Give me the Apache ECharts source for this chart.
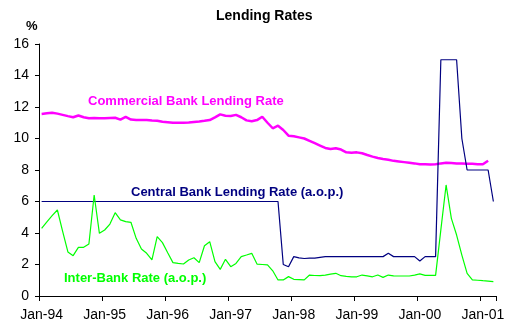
<!DOCTYPE html>
<html><head><meta charset="utf-8">
<script src="https://cdn.jsdelivr.net/npm/echarts@6/dist/echarts.min.js"></script>
<style>html,body{margin:0;padding:0;background:#fff}#c{width:508px;height:329px}</style>
</head><body><div id="c"></div>
<script>
// Monthly categories Jan-94 .. Mar-01
const monthNames = ['Jan','Feb','Mar','Apr','May','Jun','Jul','Aug','Sep','Oct','Nov','Dec'];
const categories = [];
for (let y = 1994; y <= 2001; y++) {
  for (let m = 0; m < 12; m++) {
    if (y === 2001 && m > 2) break;
    categories.push(monthNames[m] + '-' + String(y).slice(2));
  }
}
const yTicks = [0, 2, 4, 6, 8, 10, 12, 14, 16];

const commercialRate = [
  11.56, 11.6, 11.64, 11.58, 11.5, 11.42, 11.35, 11.46, 11.35, 11.28, 11.3, 11.28,
  11.28, 11.3, 11.32, 11.2, 11.37, 11.2, 11.17, 11.17, 11.17, 11.14, 11.13, 11.06,
  11.03, 11.0, 11.0, 11.0, 11.02, 11.05, 11.08, 11.12, 11.17, 11.34, 11.53, 11.45,
  11.43, 11.5, 11.35, 11.15, 11.1, 11.17, 11.38, 11.0, 10.65, 10.81, 10.54, 10.18,
  10.14, 10.07, 10.0, 9.85, 9.7, 9.55, 9.4, 9.33, 9.38, 9.3, 9.12, 9.1,
  9.12, 9.06, 8.95, 8.85, 8.76, 8.7, 8.65, 8.58, 8.54, 8.5, 8.46, 8.42,
  8.36, 8.36, 8.35, 8.36, 8.42, 8.46, 8.44, 8.42, 8.42, 8.4, 8.39, 8.37,
  8.36, 8.59, null
];
const centralRate = [
  6, 6, 6, 6, 6, 6, 6, 6, 6, 6, 6, 6,
  6, 6, 6, 6, 6, 6, 6, 6, 6, 6, 6, 6,
  6, 6, 6, 6, 6, 6, 6, 6, 6, 6, 6, 6,
  6, 6, 6, 6, 6, 6, 6, 6, 6, 6, 2.0, 1.86,
  2.5, 2.42, 2.38, 2.4, 2.4, 2.45, 2.5, 2.5, 2.5, 2.5, 2.5, 2.5,
  2.5, 2.5, 2.5, 2.5, 2.5, 2.5, 2.71, 2.5, 2.5, 2.5, 2.5, 2.5,
  2.22, 2.5, 2.5, 2.5, 15, 15, 15, 15, 10, 8, 8, 8,
  8, 8, 6
];
const interBankRate = [
  4.3, 4.7, 5.1, 5.46, 4.1, 2.8, 2.56, 3.09, 3.09, 3.3, 6.41, 3.98,
  4.19, 4.57, 5.29, 4.83, 4.72, 4.68, 3.66, 2.98, 2.71, 2.29, 3.77, 3.39,
  2.75, 2.12, 2.07, 2.03, 2.29, 2.43, 2.12, 3.19, 3.45, 2.18, 1.69, 2.33,
  1.86, 2.07, 2.5, 2.6, 2.71, 2.03, 2.0, 1.97, 1.6, 1.02, 1.02, 1.23,
  1.06, 1.04, 1.02, 1.33, 1.3, 1.29, 1.33, 1.39, 1.44, 1.29, 1.25, 1.22,
  1.22, 1.33, 1.28, 1.22, 1.33, 1.18, 1.33, 1.28, 1.27, 1.27, 1.27, 1.33,
  1.40, 1.31, 1.31, 1.31, 4.2, 7.05, 4.93, 3.87, 2.6, 1.44, 1.02, 1.0,
  0.97, 0.95, 0.91
];

const FONT = 'Liberation Sans, Arial, sans-serif';
const chart = echarts.init(document.getElementById('c'), null, {renderer: 'canvas'});
chart.setOption({
  animation: false,
  backgroundColor: '#ffffff',
  grid: {left: 39, right: 12, top: 44, bottom: 33, containLabel: false},
  xAxis: {
    type: 'category',
    data: categories,
    boundaryGap: true,
    axisLine: {lineStyle: {color: '#000', width: 1}},
    axisTick: {show: true, interval: 11, length: 5, lineStyle: {color: '#000'}},
    axisLabel: {interval: 11, color: '#000', fontSize: 14, fontFamily: FONT, margin: 12},
    splitLine: {show: false}
  },
  yAxis: {
    type: 'value',
    min: yTicks[0], max: yTicks[yTicks.length - 1], interval: 2,
    axisLine: {show: true, lineStyle: {color: '#000', width: 1}},
    axisTick: {show: true, length: 4, lineStyle: {color: '#000'}},
    axisLabel: {color: '#000', fontSize: 14, fontFamily: FONT, margin: 10},
    splitLine: {show: false}
  },
  graphic: [
    {type: 'text', left: 'center', x: 0, style: {text: 'Lending Rates', font: 'bold 14px ' + FONT, fill: '#000'}, left: 216, top: 9},
    {type: 'text', left: 26, top: 20, style: {text: '%', font: 'bold 13px ' + FONT, fill: '#000'}},
    {type: 'text', left: 88, top: 95, style: {text: 'Commercial Bank Lending Rate', font: 'bold 13px ' + FONT, fill: '#ff00ff'}},
    {type: 'text', left: 131, top: 186, style: {text: 'Central Bank Lending Rate (a.o.p.)', font: 'bold 13px ' + FONT, fill: '#000080'}},
    {type: 'text', left: 64, top: 272, style: {text: 'Inter-Bank Rate (a.o.p.)', font: 'bold 13px ' + FONT, fill: '#00ff00'}}
  ],
  series: [
    {name: 'Commercial Bank Lending Rate', type: 'line', data: commercialRate, showSymbol: false, symbol: 'none',
     lineStyle: {color: '#ff00ff', width: 2.5}, connectNulls: false},
    {name: 'Central Bank Lending Rate (a.o.p.)', type: 'line', data: centralRate, showSymbol: false, symbol: 'none',
     lineStyle: {color: '#000080', width: 1.2}},
    {name: 'Inter-Bank Rate (a.o.p.)', type: 'line', data: interBankRate, showSymbol: false, symbol: 'none',
     lineStyle: {color: '#00ff00', width: 1.2}}
  ]
});
</script></body></html>
